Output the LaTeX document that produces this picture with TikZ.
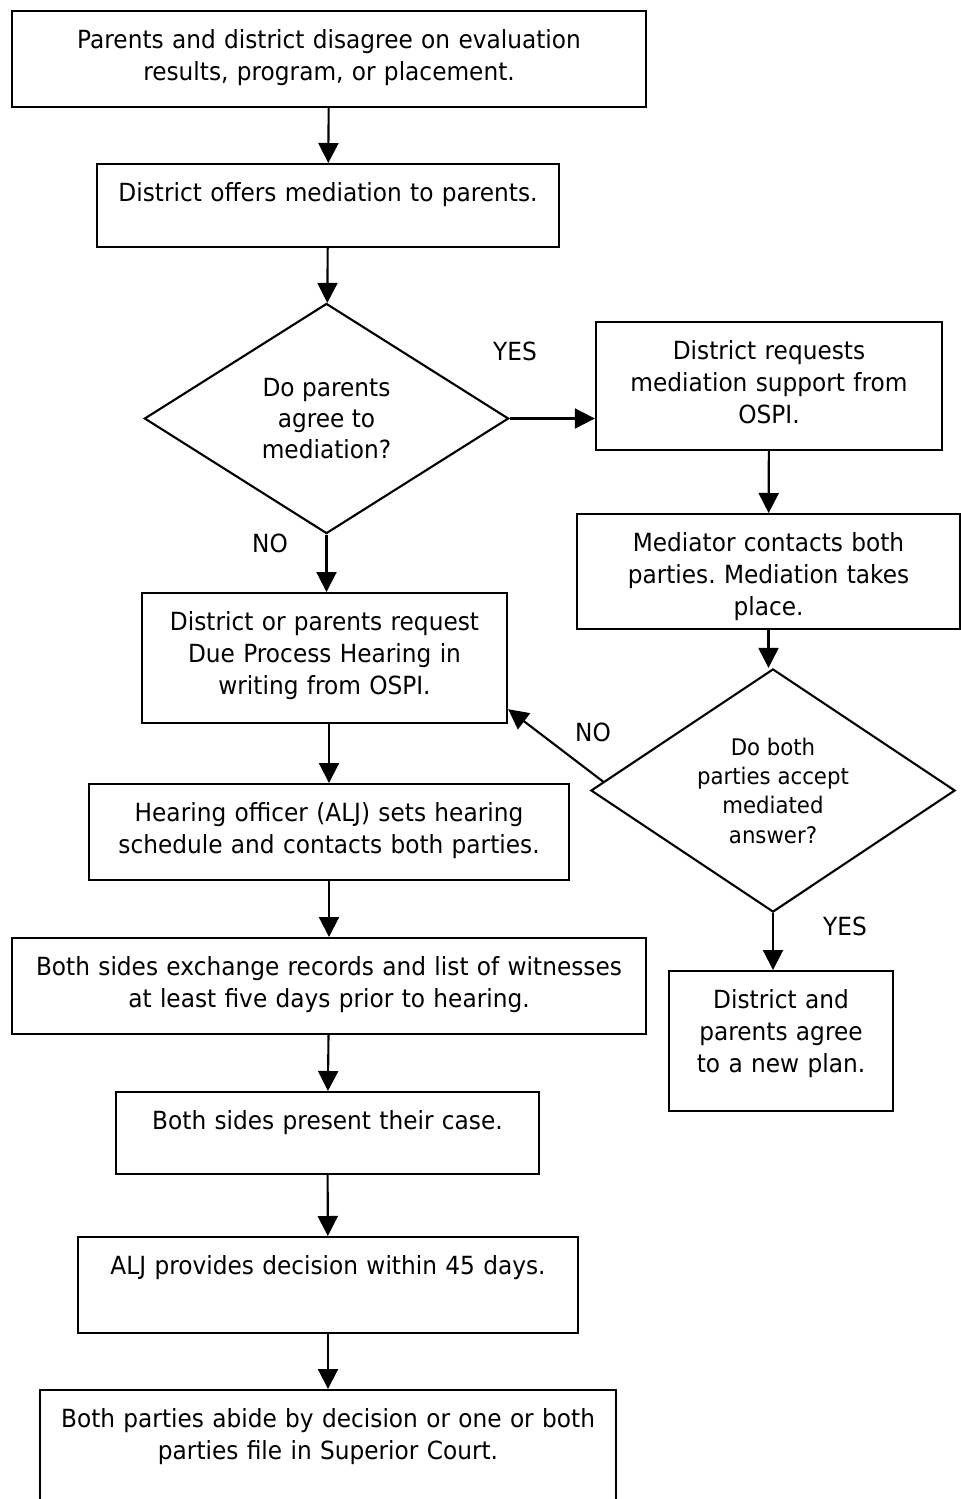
\documentclass[tikz,border=0pt]{standalone}
\usepackage{fontspec}
\setmainfont{DejaVu Sans}[FakeStretch=0.93]
\usetikzlibrary{shapes.geometric,arrows.meta}
\frenchspacing

\begin{document}
\begin{tikzpicture}[x=0.01cm,y=-0.01cm,line width=0.6pt,>={Triangle[length=0.2cm,width=0.2cm]}]
%style for process box
\tikzstyle{procbox} = [rectangle, draw=black, inner sep=0pt, anchor=north, align=center, text height=0.37cm, font=\fontsize{7.11pt}{9.1pt}\selectfont]

%style for decision diamond
\tikzstyle{decision} = [diamond, draw=black, inner sep=-0.15cm, align=center, minimum width=3.64cm]

%style for yes/no label
\tikzstyle{answer} = [inner sep=0pt, font=\fontsize{7.11pt}{9.1pt}\selectfont]

\useasboundingbox (0,0) rectangle (961,1499);
\clip (0,0) rectangle (961,1499);

%place nodes
\node[procbox, text width=6.34cm, text depth=0.59cm] (disagree) at (329,10) {Parents and district disagree on evaluation\\results, program, or placement.};

\node[procbox, text width=4.62cm, text depth=0.46cm] (offer) at (328,163) {District offers mediation to parents.};

\node[decision, minimum height=2.30cm, font=\fontsize{7.11pt}{8.9pt}\selectfont] (agree) at (326.5,418.5) {Do parents\\agree to\\mediation?};

\node[procbox, text width=3.46cm, text depth=0.91cm] (support) at (769,321) {District requests\\mediation support from\\OSPI.};

\node[procbox, text width=3.83cm, text depth=0.78cm] (mediator) at (768.5,513) {Mediator contacts both\\parties. Mediation takes\\place.};

\node[procbox, text width=3.65cm, text depth=0.93cm] (hearing) at (324.5,592) {District or parents request\\Due Process Hearing in\\writing from OSPI.};

\node[decision, minimum height=2.43cm, font=\fontsize{6.5pt}{8.34pt}\selectfont] (accept) at (773,790.5) {Do both\\parties accept\\mediated\\answer?};

\node[procbox, text width=4.80cm, text depth=0.59cm] (officer) at (329,783) {Hearing officer (ALJ) sets hearing\\schedule and contacts both parties.};

\node[procbox, text width=6.34cm, text depth=0.59cm] (exchange) at (329,937) {Both sides exchange records and list of witnesses\\at least five days prior to hearing.};

\node[procbox, text width=2.24cm, text depth=1.03cm] (newplan) at (781,970) {District and\\parents agree\\to a new plan.};

\node[procbox, text width=4.23cm, text depth=0.45cm] (present) at (327.5,1091) {Both sides present their case.};

\node[procbox, text width=5.00cm, text depth=0.59cm] (ruling) at (328,1236) {ALJ provides decision within 45 days.};

\node[procbox, text width=5.76cm, text depth=1.10cm] (court) at (328,1389) {Both parties abide by decision or one or both\\parties file in Superior Court.};

\node[answer] (yesA) at (515,351) {YES};
\node[answer] (noA) at (270,543) {NO};
\node[answer] (noB) at (593,732) {NO};
\node[answer] (yesB) at (845,926.5) {YES};

\draw[->] (disagree) -- (offer);

\draw[->] (offer) -- (agree);

\draw[->] (agree) -- (agree -| support.west);
\draw[->] (agree) -- (agree |- hearing.north);

\draw[->] (support) -- (mediator);

\draw[->] (mediator) -- (mediator |- accept.north);

\draw[->] (accept.177) -- ([yshift=0.15cm]hearing.south east);
\draw[->] (accept) -- (accept |- newplan.north);

\draw[->] (hearing.south -| officer) -- (officer);

\draw[->] (officer) -- (exchange);

\draw[->] (exchange) -- (present);

\draw[->] (present) -- (ruling);

\draw[->] (ruling) -- (court);
\end{tikzpicture}
\end{document}
